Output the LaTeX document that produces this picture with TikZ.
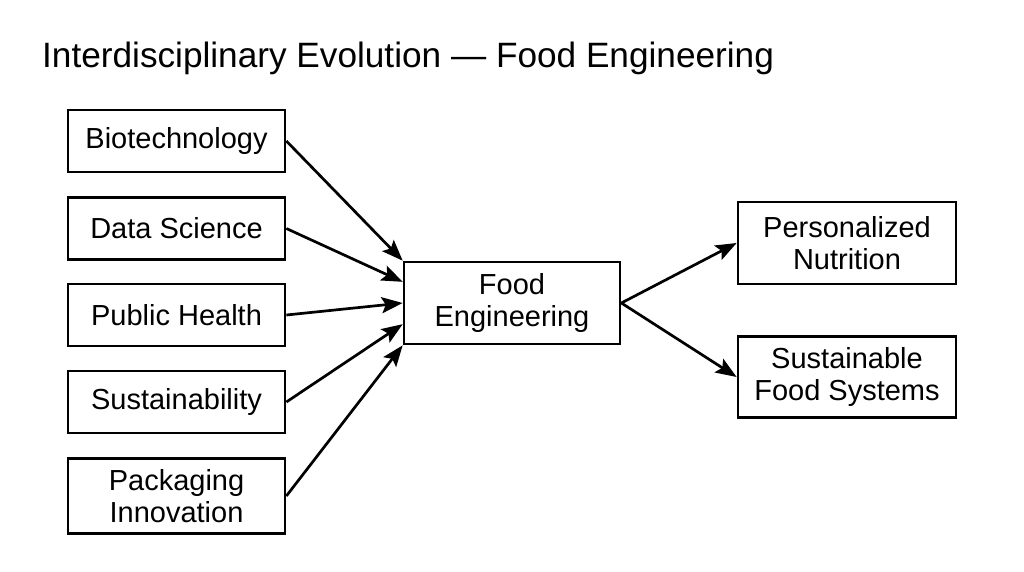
\documentclass[tikz,border=0pt]{standalone}
\usepackage{fontspec}
\setmainfont{Liberation Sans}
\usetikzlibrary{arrows.meta,calc}
\tikzset{
  box/.style={draw=black, line width=2.7pt, fill=white, align=center, inner sep=0pt,
    font=\fontsize{29}{31.5}\selectfont},
  arr/.style={line width=2.7pt, -{Stealth[length=21pt,width=16pt,inset=4pt]}},
  ttl/.style={font=\fontsize{35.2}{40}\selectfont, anchor=base west, inner sep=0pt}
}
\begin{document}
\begin{tikzpicture}[x=1pt,y=-1pt]
\useasboundingbox (0,0) rectangle (1024,572);
\node[ttl] (title) at (42,68) {Interdisciplinary Evolution — Food Engineering};

\node[box, minimum width=217pt, minimum height=62pt] (bio) at (176.5,141) {Biotechnology};
\node[box, minimum width=217pt, minimum height=62pt] (ds) at (176.5,228.5) {Data Science};
\node[box, minimum width=217pt, minimum height=62pt] (ph) at (176.5,315) {Public Health};
\node[box, minimum width=217pt, minimum height=62pt] (sus) at (176.5,402) {Sustainability};
\node[box, minimum width=217pt, minimum height=75pt] (pack) at (176.5,496) {Packaging\\Innovation};

\node[box, minimum width=216pt, minimum height=82pt] (fe) at (512,303) {Food\\Engineering};

\node[box, minimum width=218pt, minimum height=82pt] (pn) at (847,243) {Personalized\\Nutrition};
\node[box, minimum width=218pt, minimum height=81pt] (sfs) at (847,377) {Sustainable\\Food Systems};

\coordinate (e1) at ($(fe.north west)!0!(fe.south west)$);
\coordinate (e2) at ($(fe.north west)!0.25!(fe.south west)$);
\coordinate (e3) at ($(fe.north west)!0.5!(fe.south west)$);
\coordinate (e4) at ($(fe.north west)!0.75!(fe.south west)$);
\coordinate (e5) at ($(fe.north west)!1!(fe.south west)$);

\draw[arr] (bio.east) -- (e1);
\draw[arr] (ds.east) -- (e2);
\draw[arr] (ph.east) -- (e3);
\draw[arr] (sus.east) -- (e4);
\draw[arr] (pack.east) -- (e5);

\draw[arr] (fe.east) -- (pn.west);
\draw[arr] (fe.east) -- (sfs.west);
\end{tikzpicture}
\end{document}
